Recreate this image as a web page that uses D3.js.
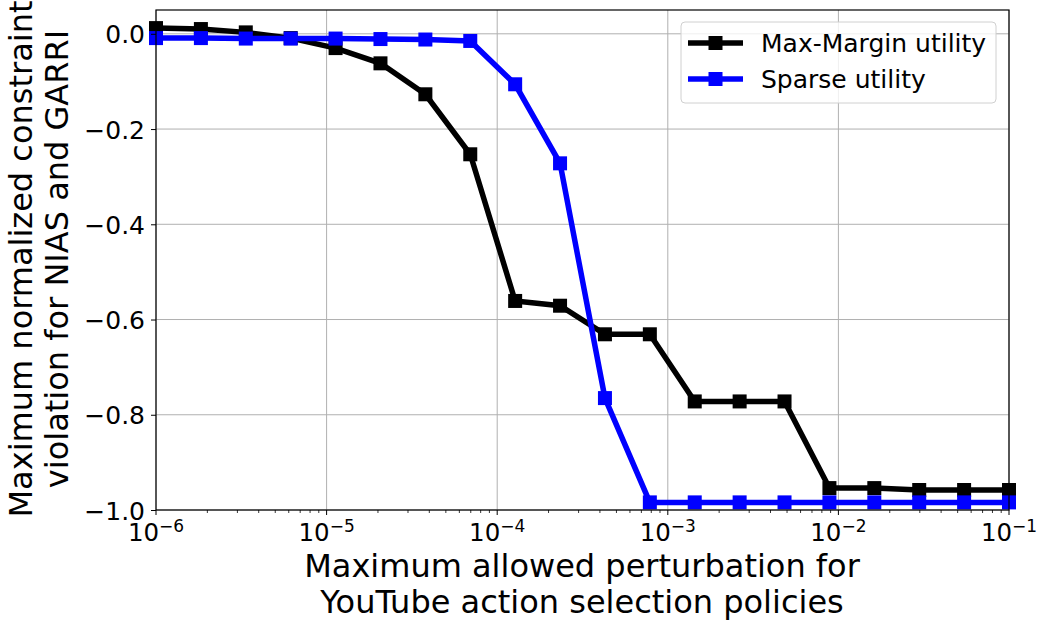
<!DOCTYPE html>
<html><head><meta charset="utf-8">
<script src="https://cdn.jsdelivr.net/npm/d3@7"></script>
<style>body{margin:0;background:#fff}svg{display:block}text{font-family:"DejaVu Sans",sans-serif}</style>
</head><body><svg id="c" width="1049" height="631"></svg>
<script>
const xExponents = [-6, -5, -4, -3, -2, -1];
const yTicks = [0.0, -0.2, -0.4, -0.6, -0.8, -1.0];
const perturbations = d3.range(20).map(i => Math.pow(10, -6 + i * 5 / 19));
const maxMargin = [0.012, 0.010, 0.003, -0.009, -0.030, -0.062, -0.127, -0.253, -0.561, -0.571, -0.631, -0.631, -0.772, -0.772, -0.772, -0.954, -0.954, -0.958, -0.958, -0.958];
const sparse = [-0.009, -0.009, -0.010, -0.010, -0.010, -0.011, -0.012, -0.015, -0.106, -0.272, -0.765, -0.984, -0.984, -0.984, -0.984, -0.984, -0.984, -0.984, -0.984, -0.984];
const seriesNames = ["Max-Margin utility", "Sparse utility"];
const seriesColors = ["#000000", "#0000ff"];

const svg = d3.select("#c");
const L = 156, R = 1009, T = 10, B = 510;
const x = d3.scaleLog().domain([1e-6, 1e-1]).range([L, R]);
const y = d3.scaleLinear().domain([-1.0, 0.05]).range([B, T]);

// grid
const g = svg.append("g");
g.selectAll(".gx").data(xExponents).join("line")
  .attr("x1", d => x(Math.pow(10, d))).attr("x2", d => x(Math.pow(10, d)))
  .attr("y1", T).attr("y2", B).attr("stroke", "#b0b0b0").attr("stroke-width", 1);
g.selectAll(".gy").data(yTicks).join("line")
  .attr("x1", L).attr("x2", R).attr("y1", d => y(d)).attr("y2", d => y(d))
  .attr("stroke", "#b0b0b0").attr("stroke-width", 1);

// series
const data = [maxMargin, sparse];
const line = d3.line().x((d, i) => x(perturbations[i])).y(d => y(d));
data.forEach((s, k) => {
  const gs = svg.append("g");
  gs.append("path").datum(s).attr("d", line).attr("fill", "none")
    .attr("stroke", seriesColors[k]).attr("stroke-width", 5.5).attr("stroke-linejoin", "miter");
  gs.selectAll("rect").data(s).join("rect")
    .attr("x", (d, i) => x(perturbations[i]) - 7).attr("y", d => y(d) - 7)
    .attr("width", 14).attr("height", 14).attr("fill", seriesColors[k]);
});

// frame
svg.append("rect").attr("x", L).attr("y", T).attr("width", R - L).attr("height", B - T)
  .attr("fill", "none").attr("stroke", "#000").attr("stroke-width", 1.2);

// y axis
const yAxis = svg.append("g").attr("transform", `translate(${L},0)`)
  .call(d3.axisLeft(y).tickValues(yTicks).tickSize(5).tickPadding(6)
    .tickFormat(d => d3.format(".1f")(d).replace("-", "\u2212")));
yAxis.select(".domain").remove();
yAxis.selectAll("line").attr("stroke-width", 1);
yAxis.selectAll("text").attr("font-size", 25).attr("font-family", "DejaVu Sans").attr("fill", "#000").attr("dy", "0.36em");

// x axis
const majors = xExponents.map(e => Math.pow(10, e));
const minors = [];
xExponents.slice(0, -1).forEach(e => { for (let m = 2; m <= 9; m++) minors.push(m * Math.pow(10, e)); });
const xAxis = svg.append("g").attr("transform", `translate(0,${B})`);
xAxis.selectAll(".mn").data(minors).join("line")
  .attr("x1", d => x(d)).attr("x2", d => x(d)).attr("y1", 0).attr("y2", 3).attr("stroke", "#000").attr("stroke-width", 0.8);
xAxis.selectAll(".mj").data(majors).join("line")
  .attr("x1", d => x(d)).attr("x2", d => x(d)).attr("y1", 0).attr("y2", 5).attr("stroke", "#000").attr("stroke-width", 1);
const xt = xAxis.selectAll(".xt").data(xExponents).join("text")
  .attr("x", d => x(Math.pow(10, d))).attr("y", 31).attr("text-anchor", "middle")
  .attr("font-size", 24.5).attr("fill", "#000");
xt.append("tspan").text("10");
xt.append("tspan").attr("dy", -9).attr("font-size", 17).text(d => "\u2212" + Math.abs(d));

// axis labels
svg.append("text").attr("x", 582).attr("y", 577).attr("text-anchor", "middle").attr("font-size", 32).text("Maximum allowed perturbation for");
svg.append("text").attr("x", 582).attr("y", 613).attr("text-anchor", "middle").attr("font-size", 32).text("YouTube action selection policies");
const yl = svg.append("g").attr("transform", "translate(0,259) rotate(-90)");
yl.append("text").attr("x", 0).attr("y", 32).attr("text-anchor", "middle").attr("font-size", 32).text("Maximum normalized constraint");
yl.append("text").attr("x", 0).attr("y", 68).attr("text-anchor", "middle").attr("font-size", 32).text("violation for NIAS and GARRI");

// legend
const lg = svg.append("g").attr("transform", "translate(681,22)");
lg.append("rect").attr("width", 315).attr("height", 81).attr("rx", 4)
  .attr("fill", "#fff").attr("fill-opacity", 0.8).attr("stroke", "#d0d0d0").attr("stroke-width", 1);
seriesNames.forEach((n, k) => {
  const yy = 21 + k * 36;
  lg.append("line").attr("x1", 7).attr("x2", 62).attr("y1", yy).attr("y2", yy).attr("stroke", seriesColors[k]).attr("stroke-width", 5.5);
  lg.append("rect").attr("x", 34.5 - 7).attr("y", yy - 7).attr("width", 14).attr("height", 14).attr("fill", seriesColors[k]);
  lg.append("text").attr("x", 80).attr("y", yy + 9).attr("font-size", 25).text(n);
});
</script></body></html>
